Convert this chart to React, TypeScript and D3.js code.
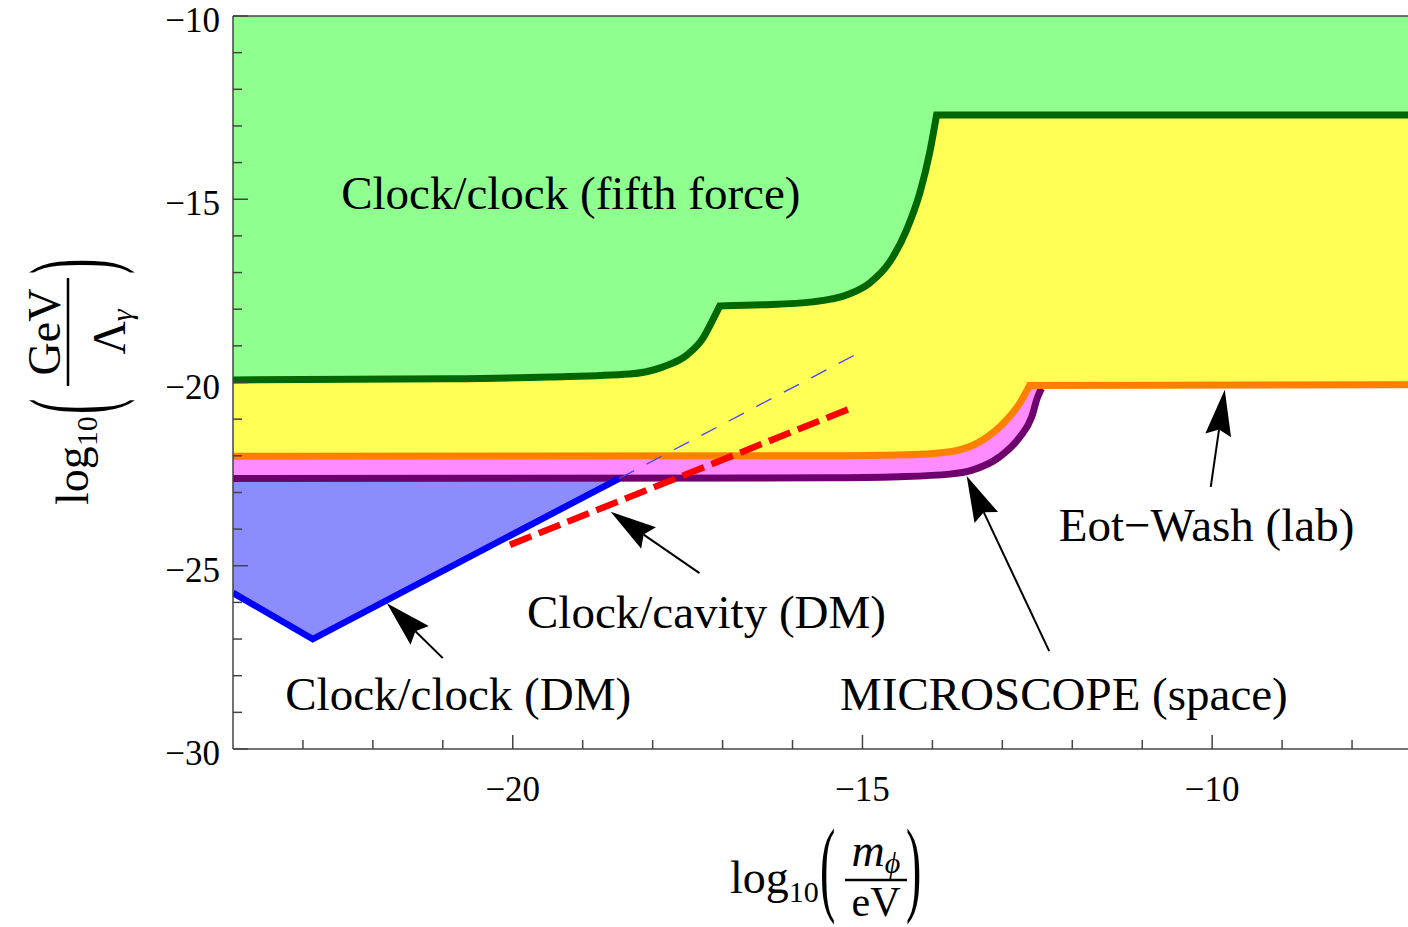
import React from 'react';
import * as d3 from 'd3';

type Pt = [number, number];

// log10(m/eV) , log10(GeV/Lambda)
const fifthForceA: Pt[] = [[-24, -19.93], [-20.9, -19.9], [-19.47, -19.85], [-18.33, -19.77], [-17.86, -19.58], [-17.51, -19.25], [-17.28, -18.79], [-17.14, -18.29], [-17.04, -17.91]];
const fifthForceB: Pt[] = [[-17.04, -17.91], [-16.43, -17.88], [-15.71, -17.8], [-15.18, -17.58], [-14.9, -17.29], [-14.61, -16.71], [-14.37, -15.84], [-14.18, -14.83], [-14.04, -13.74], [-13.94, -12.7]];
const fifthForceC: Pt[] = [[-13.94, -12.7], [-7.2, -12.7]];

const eotWashA: Pt[] = [[-24, -22.01], [-15.5, -22.0], [-14.47, -21.98], [-13.75, -21.89], [-13.28, -21.57], [-12.94, -21.02], [-12.75, -20.56], [-12.61, -20.08]];
const eotWashB: Pt[] = [[-12.61, -20.08], [-7.2, -20.06]];

const microscope: Pt[] = [[-24, -22.62], [-15.5, -22.6], [-14.47, -22.57], [-13.75, -22.5], [-13.43, -22.39], [-13.04, -22.03], [-12.75, -21.49], [-12.58, -20.94], [-12.5, -20.42], [-12.44, -20.16]];

const clockDM: Pt[] = [[-24, -25.74], [-22.86, -27.0], [-18.48, -22.62]];
const clockDMext: Pt[] = [[-18.48, -22.62], [-15.07, -19.21]];
const clockCavity: Pt[] = [[-20.04, -24.43], [-15.16, -20.7]];

const xMajorTicks = [-20, -15, -10];
const xMinorTicks = [-23, -22, -21, -19, -18, -17, -16, -14, -13, -12, -11, -9, -8];
const yMajorTicks = [-10, -15, -20, -25, -30];
const yMinorTicks = [-11, -12, -13, -14, -16, -17, -18, -19, -21, -22, -23, -24, -26, -27, -28, -29];

const labels = [
  { text: 'Clock/clock (fifth force)', at: [-19.17, -15.27] as Pt },
  { text: 'Clock/cavity (DM)', at: [-17.23, -26.7] as Pt },
  { text: 'Clock/clock (DM)', at: [-20.78, -28.94] as Pt },
  { text: 'MICROSCOPE (space)', at: [-12.12, -28.94] as Pt },
  { text: 'Eot\u2212Wash (lab)', at: [-10.08, -24.32] as Pt },
];

const arrows: { tail: Pt; tip: Pt }[] = [
  { tail: [-21.0, -27.52], tip: [-21.8, -26.02] },
  { tail: [-17.33, -25.2], tip: [-18.6, -23.53] },
  { tail: [-12.33, -27.33], tip: [-13.51, -22.55] },
  { tail: [-10.02, -22.85], tip: [-9.82, -20.2] },
];

const W = 1408;
const H = 927;
const x = d3.scaleLinear().domain([-24, -7.2]).range([233, 1408]);
const y = d3.scaleLinear().domain([-10, -30]).range([16, 749]);

const smooth = d3.line<Pt>().x(d => x(d[0])).y(d => y(d[1])).curve(d3.curveMonotoneX);
const straight = d3.line<Pt>().x(d => x(d[0])).y(d => y(d[1]));

function joined(segs: Pt[][], gen = smooth) {
  return segs.map((s, i) => {
    const p = gen(s) || '';
    return i === 0 ? p : p.replace(/^M/, 'L');
  }).join('');
}

function toTop(segs: Pt[][], gen = smooth) {
  const first = segs[0][0];
  const lastSeg = segs[segs.length - 1];
  const last = lastSeg[lastSeg.length - 1];
  return joined(segs, gen) + `L${x(last[0])},${y(-10)}L${x(first[0])},${y(-10)}Z`;
}

const font = '"Liberation Serif", "Times New Roman", serif';

function Arrow({ tail, tip }: { tail: Pt; tip: Pt }) {
  const x1 = x(tail[0]), y1 = y(tail[1]);
  const x2 = x(tip[0]), y2 = y(tip[1]);
  const L = Math.hypot(x2 - x1, y2 - y1);
  const ux = (x2 - x1) / L, uy = (y2 - y1) / L;
  const len = 46, half = 13, notch = 40;
  const bx = x2 - ux * len, by = y2 - uy * len;
  const nx = x2 - ux * notch, ny = y2 - uy * notch;
  const pts = [[x2, y2], [bx - uy * half, by + ux * half], [nx, ny], [bx + uy * half, by - ux * half]];
  return (
    <g>
      <line x1={x1} y1={y1} x2={nx} y2={ny} stroke="#000" strokeWidth={2} />
      <polygon points={pts.map(p => p.join(',')).join(' ')} fill="#000" />
    </g>
  );
}

export default function App() {
  const fifth = [fifthForceA, fifthForceB, fifthForceC];
  const eot = [eotWashA, eotWashB];
  return (
    <svg width={W} height={H} style={{ position: 'absolute', left: 0, top: 0, background: '#fff' }} fontFamily={font}>
      <defs>
        <clipPath id="plot">
          <rect x={233} y={16} width={1408 - 233} height={749 - 16} />
        </clipPath>
      </defs>
      <g clipPath="url(#plot)">
        <path d={toTop([clockDM], straight)} fill="#8c8cff" />
        <path d={toTop([microscope])} fill="#ff8cff" />
        <path d={toTop(eot)} fill="#ffff55" />
        <path d={toTop(fifth)} fill="#8fff8f" />
        <path d={joined([microscope])} fill="none" stroke="#6e006e" strokeWidth={7} />
        <path d={joined(eot)} fill="none" stroke="#ff8000" strokeWidth={7} />
        <path d={joined(fifth)} fill="none" stroke="#006600" strokeWidth={7} />
        <path d={straight(clockDM) || ''} fill="none" stroke="#0000ff" strokeWidth={6.5} />
        <path d={straight(clockDMext) || ''} fill="none" stroke="#4444ff" strokeWidth={1.3} strokeDasharray="17 14" />
        <path d={straight(clockCavity) || ''} fill="none" stroke="#ff0000" strokeWidth={6.5} strokeDasharray="23 8" />
      </g>

      {/* frame */}
      <g stroke="#444" strokeWidth={1.5} fill="none">
        <line x1={233} y1={16} x2={1408} y2={16} />
        <line x1={233} y1={16} x2={233} y2={749} />
        <line x1={233} y1={749} x2={1408} y2={749} />
        {xMajorTicks.map(t => <line key={'xM' + t} x1={x(t)} x2={x(t)} y1={749} y2={735} />)}
        {xMinorTicks.map(t => <line key={'xm' + t} x1={x(t)} x2={x(t)} y1={749} y2={740} />)}
        {yMajorTicks.map(t => <line key={'yM' + t} x1={233} x2={248} y1={y(t)} y2={y(t)} />)}
        {yMinorTicks.map(t => <line key={'ym' + t} x1={233} x2={242} y1={y(t)} y2={y(t)} />)}
      </g>
      {xMajorTicks.map(t => (
        <text key={'xl' + t} x={x(t)} y={801} fontSize={35} textAnchor="middle">{'\u2212' + Math.abs(t)}</text>
      ))}
      {yMajorTicks.map(t => (
        <text key={'yl' + t} x={220} y={y(t) + 16} fontSize={35} textAnchor="end">{'\u2212' + Math.abs(t)}</text>
      ))}

      {arrows.map((a, i) => <Arrow key={i} tail={a.tail} tip={a.tip} />)}
      {labels.map(l => (
        <text key={l.text} x={x(l.at[0])} y={y(l.at[1])} fontSize={47} textAnchor="middle">{l.text}</text>
      ))}

      {/* x axis label: log10(m_phi / eV) */}
      <g fontSize={46}>
        <text x={730} y={893}>log<tspan fontSize={30} dy={9}>10</tspan></text>
        <text transform="translate(820,902) scale(1,2.3)">(</text>
        <text x={876} y={866} textAnchor="middle"><tspan fontStyle="italic">m</tspan><tspan fontStyle="italic" fontSize={30} dy={7}>{'\u03d5'}</tspan></text>
        <line x1={845} x2={907} y1={880} y2={880} stroke="#000" strokeWidth={2.5} />
        <text x={876} y={916} fontSize={42} textAnchor="middle">eV</text>
        <text transform="translate(906,902) scale(1,2.3)">)</text>
      </g>

      {/* y axis label: log10(GeV / Lambda_gamma) */}
      <g fontSize={46} transform="rotate(-90)">
        <text x={-505} y={88}>log<tspan fontSize={30} dy={9}>10</tspan></text>
        <text transform="translate(-414,110) scale(1,2.55)">(</text>
        <text x={-332} y={60} textAnchor="middle">GeV</text>
        <line x1={-386} x2={-278} y1={68} y2={68} stroke="#000" strokeWidth={2.5} />
        <text x={-332} y={125} textAnchor="middle">{'\u039b'}<tspan fontStyle="italic" fontSize={30} dy={7}>{'\u03b3'}</tspan></text>
        <text transform="translate(-274,110) scale(1,2.55)">)</text>
      </g>
    </svg>
  );
}
